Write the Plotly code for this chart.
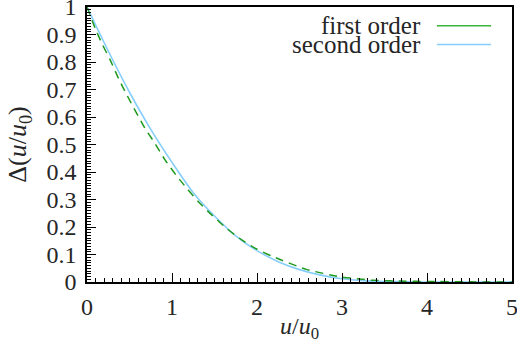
import plotly.graph_objects as go

# Data
x_second = [0, 0.25, 0.5, 0.75, 1.0, 1.25, 1.5, 1.75, 2.0, 2.25, 2.5, 2.75, 3.0, 3.25, 3.5, 3.75, 4.0, 5.0]
y_second = [1.0, 0.84, 0.69, 0.555, 0.435, 0.325, 0.24, 0.168, 0.114, 0.074, 0.045, 0.025, 0.012, 0.005, 0.002, 0.001, 0.0, 0.0]

x_first = [0, 0.098, 0.176, 0.275, 0.373, 0.471, 0.682, 0.8, 0.918, 1.047, 1.173, 1.31, 1.467,
           1.643, 1.82, 1.996, 2.19, 2.58, 2.98, 3.37, 3.75, 4.0, 4.5, 5.0]
y_first = [1.0, 0.921, 0.867, 0.806, 0.739, 0.679, 0.559, 0.504, 0.444, 0.389, 0.341, 0.292, 0.244,
           0.195, 0.153, 0.12, 0.092, 0.046, 0.019, 0.006, 0.003, 0.002, 0.0005, 0.0]

series_names = ["first order", "second order"]
x_ticks = [0, 1, 2, 3, 4, 5]
y_ticks = [0, 0.1, 0.2, 0.3, 0.4, 0.5, 0.6, 0.7, 0.8, 0.9, 1]
y_tick_text = ["0", "0.1", "0.2", "0.3", "0.4", "0.5", "0.6", "0.7", "0.8", "0.9", "1"]

GREEN = "#1e9a1e"
GREEN_LEG = "#3cb33c"
BLUE = "#87cefa"
FONT = "Liberation Serif"
TXT = "#262626"

fig = go.Figure()
fig.add_trace(go.Scatter(x=x_second, y=y_second, mode="lines", name=series_names[1],
                         line=dict(color=BLUE, width=1.6, shape="spline", smoothing=0.8), showlegend=False))
fig.add_trace(go.Scatter(x=x_first, y=y_first, mode="lines", name=series_names[0],
                         line=dict(color=GREEN, width=1.5, dash="8px,6px", shape="spline", smoothing=0.6),
                         showlegend=False))

# gnuplot-style key: right-aligned text with sample line on the right
key_rows = [(series_names[0], GREEN_LEG, 0.932), (series_names[1], BLUE, 0.864)]
for name, col, yy in key_rows:
    fig.add_annotation(x=0.791, y=yy, xref="paper", yref="paper", text=name, showarrow=False,
                       xanchor="right", yanchor="middle", font=dict(family=FONT, size=25, color=TXT))
    fig.add_shape(type="line", xref="paper", yref="paper", x0=0.8235, x1=0.9506, y0=yy, y1=yy,
                  line=dict(color=col, width=1.5))

axis_common = dict(showline=True, linecolor="black", linewidth=1.5, mirror=True,
                   showgrid=False, zeroline=False, ticks="inside", ticklen=9, tickwidth=1,
                   tickcolor="black", tickfont=dict(family=FONT, size=24, color=TXT),
                   ticklabeloverflow="allow", automargin=False)

fig.update_xaxes(range=[0, 5], tickvals=x_ticks, ticktext=[str(v) for v in x_ticks],
                 minor=dict(dtick=0.1, ticks="inside", ticklen=4, tickcolor="black", tickwidth=1),
                 ticklabelstandoff=2,
                 title=dict(text="<i>u</i>/<i>u</i><sub>0</sub>", font=dict(family=FONT, size=24, color=TXT), standoff=0),
                 **axis_common)
fig.update_yaxes(range=[0, 1], tickvals=y_ticks, ticktext=y_tick_text,
                 minor=dict(dtick=0.01, ticks="inside", ticklen=4, tickcolor="black", tickwidth=1),
                 ticklabelstandoff=4,
                 title=dict(text="Δ(<i>u</i>/<i>u</i><sub>0</sub>)", font=dict(family=FONT, size=26, color=TXT), standoff=12),
                 **axis_common)

fig.update_layout(width=517, height=343, margin=dict(l=87, r=5, t=7, b=61, autoexpand=False),
                  font=dict(family=FONT),
                  plot_bgcolor="white", paper_bgcolor="white", showlegend=False)

fig.write_html("out.html")
